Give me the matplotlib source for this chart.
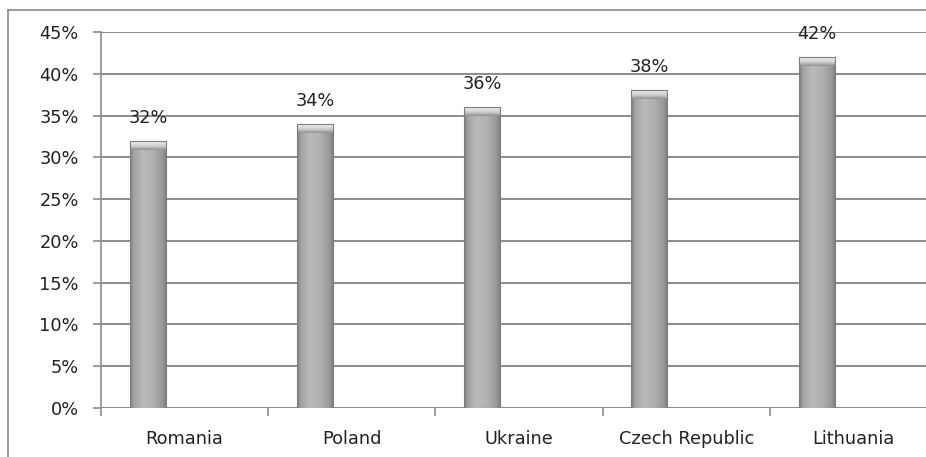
import numpy as np
import matplotlib
matplotlib.use("Agg")
import matplotlib.pyplot as plt
from matplotlib.colors import LinearSegmentedColormap
from matplotlib.patches import Rectangle
from matplotlib.lines import Line2D

plt.rcParams["font.family"] = ["DejaVu Sans"]

categories = ["Romania", "Poland", "Ukraine", "Czech Republic", "Lithuania"]
values = [32, 34, 36, 38, 42]
yticks = [0, 5, 10, 15, 20, 25, 30, 35, 40, 45]
ytick_labels = ["0%", "5%", "10%", "15%", "20%", "25%", "30%", "35%", "40%", "45%"]

W, H = 926, 457
fig = plt.figure(figsize=(W / 100, H / 100), dpi=100)
fig.patch.set_facecolor("white")

left, right_px = 101, 937
bottom_px, top_px = 408, 32
ax = fig.add_axes([left / W, (H - bottom_px) / H, (right_px - left) / W, (bottom_px - top_px) / H])
ax.set_xlim(-0.5, len(categories) - 0.5)
ax.set_ylim(0, 45)

gray = "#8c8c8c"
fs = 12.8
ax.set_yticks(yticks)
ax.set_yticklabels(ytick_labels)
ax.yaxis.grid(True, color=gray, linewidth=1.4)
ax.set_axisbelow(True)
for s in ["top", "right", "bottom"]:
    ax.spines[s].set_visible(False)
ax.spines["left"].set_color(gray)
ax.spines["left"].set_linewidth(1.2)
ax.tick_params(axis="y", length=6, width=1.2, color=gray, pad=10, labelsize=fs, labelcolor="#222222")

x = np.arange(len(categories))
ax.set_xticks(x)
ax.set_xticklabels(categories)
ax.tick_params(axis="x", which="major", length=0, pad=16, labelsize=fs, labelcolor="#222222")
ax.set_xticks(x - 0.5, minor=True)
ax.tick_params(axis="x", which="minor", length=6, width=1.2, color=gray)
ax.axhline(0, color=gray, linewidth=1.4, zorder=1)

# cylinder-like gradient
prof = [(0.0, "#7a7a7a"), (0.1, "#a2a2a2"), (0.35, "#bababa"), (0.65, "#b0b0b0"),
        (0.9, "#959595"), (1.0, "#767676")]
cmap = LinearSegmentedColormap.from_list("cyl", prof)
grad = np.linspace(0, 1, 256).reshape(1, -1)
capcmap = LinearSegmentedColormap.from_list("cap", [(0, "#eeeeee"), (0.55, "#d0d0d0"), (1, "#8e8e8e")])
capgrad = np.linspace(0, 1, 64).reshape(-1, 1)

offset = -0.22
bw = 0.216
bars = ax.bar(x + offset, values, width=bw, color="none", edgecolor="none", zorder=3)
px_per_unit = (bottom_px - top_px) / 45.0
cap_h = 9 / px_per_unit
for b, v in zip(bars, values):
    x0 = b.get_x()
    x1 = x0 + b.get_width()
    im = ax.imshow(grad, cmap=cmap, extent=[x0, x1, 0, v], aspect="auto", zorder=3,
                   interpolation="bicubic")
    im.set_clip_path(b)
    cap = Rectangle((x0, v - cap_h), b.get_width(), cap_h, facecolor="none", edgecolor="none")
    ax.add_patch(cap)
    im2 = ax.imshow(capgrad, cmap=capcmap, extent=[x0, x1, v - cap_h, v], aspect="auto",
                    zorder=4, interpolation="bicubic", origin="upper")
    im2.set_clip_path(cap)
    ax.add_patch(Rectangle((x0, 0), b.get_width(), v, facecolor="none",
                           edgecolor="#7e7e7e", linewidth=0.8, zorder=5))
    ax.annotate(f"{v}%", (x0 + b.get_width() / 2, v), xytext=(0, 23 * 0.72),
                textcoords="offset points", ha="center", va="center",
                fontsize=fs, color="#222222", zorder=6)

ax.set_xlim(-0.5, len(categories) - 0.5)
ax.set_ylim(0, 45)

# outer chart border
fig.add_artist(Line2D([7.5 / W, 7.5 / W], [0, (H - 9.5) / H], color="#8a8a8a", linewidth=1.2,
                      transform=fig.transFigure))
fig.add_artist(Line2D([7.5 / W, 1.0], [(H - 9.5) / H, (H - 9.5) / H], color="#8a8a8a",
                      linewidth=1.2, transform=fig.transFigure))

fig.savefig("out.png", dpi=100)
